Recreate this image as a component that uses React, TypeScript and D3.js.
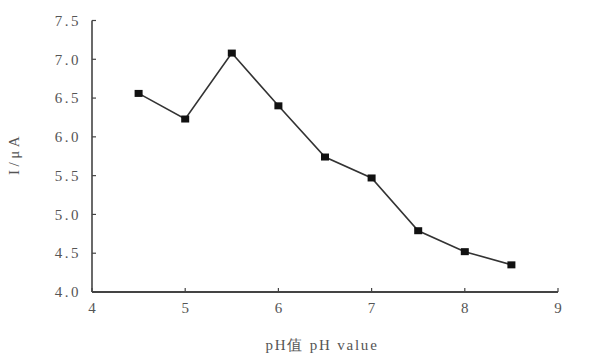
import React from "react";
import * as d3 from "d3";

const phValues = [4.5, 5, 5.5, 6, 6.5, 7, 7.5, 8, 8.5];
const currentValues = [6.56, 6.23, 7.08, 6.4, 5.74, 5.47, 4.79, 4.52, 4.35];
const xTicks = [4, 5, 6, 7, 8, 9];
const yTicks = [4.0, 4.5, 5.0, 5.5, 6.0, 6.5, 7.0, 7.5];
const xTitle = "pH值 pH value";
const yTitle = "I/μA";

const W = 593;
const H = 355;
const left = 92;
const right = 558;
const top = 20.5;
const bottom = 292;
const font = "'Liberation Serif', 'DejaVu Serif', serif";
const labelColor = "#555";
const axisColor = "#444";

export default function App() {
  const x = d3.scaleLinear().domain([4, 9]).range([left, right]);
  const y = d3.scaleLinear().domain([4, 7.5]).range([bottom, top]);
  const pts: [number, number][] = phValues.map((p, i) => [p, currentValues[i]]);
  const line = d3
    .line<[number, number]>()
    .x((d) => x(d[0]))
    .y((d) => y(d[1]));

  return (
    <svg
      width={W}
      height={H}
      style={{ position: "absolute", left: 0, top: 0, background: "#fff" }}
    >
      {/* axes */}
      <line x1={left} x2={left} y1={top} y2={bottom} stroke={axisColor} strokeWidth={1.6} />
      <line x1={left} x2={right} y1={bottom} y2={bottom} stroke={axisColor} strokeWidth={1.8} />
      {yTicks.map((t) => (
        <g key={"y" + t}>
          <line x1={left} x2={left + 4} y1={y(t)} y2={y(t)} stroke={axisColor} strokeWidth={1.2} />
          <text
            x={left - 11}
            y={y(t)}
            dy="0.35em"
            textAnchor="end"
            fontFamily={font}
            fontSize={15}
            letterSpacing={2.5}
            fill={labelColor}
          >
            {t.toFixed(1)}
          </text>
        </g>
      ))}
      {xTicks.map((t) => (
        <g key={"x" + t}>
          <line x1={x(t)} x2={x(t)} y1={bottom} y2={bottom - 4} stroke={axisColor} strokeWidth={1.2} />
          <text
            x={x(t)}
            y={bottom + 21}
            textAnchor="middle"
            fontFamily={font}
            fontSize={15}
            fill={labelColor}
          >
            {t}
          </text>
        </g>
      ))}
      {/* axis titles */}
      <text
        x={322}
        y={350}
        textAnchor="middle"
        fontFamily={font}
        fontSize={15}
        letterSpacing={1.8}
        fill={labelColor}
      >
        {xTitle}
      </text>
      <text
        transform={`translate(19,154) rotate(-90)`}
        textAnchor="middle"
        fontFamily={font}
        fontSize={15}
        letterSpacing={3.5}
        fill={labelColor}
      >
        {yTitle}
      </text>
      {/* series */}
      <path d={line(pts) || ""} fill="none" stroke="#333" strokeWidth={1.6} />
      {pts.map((d, i) => (
        <rect
          key={i}
          x={x(d[0]) - 4}
          y={y(d[1]) - 3.5}
          width={8}
          height={7}
          fill="#111"
        />
      ))}
    </svg>
  );
}
